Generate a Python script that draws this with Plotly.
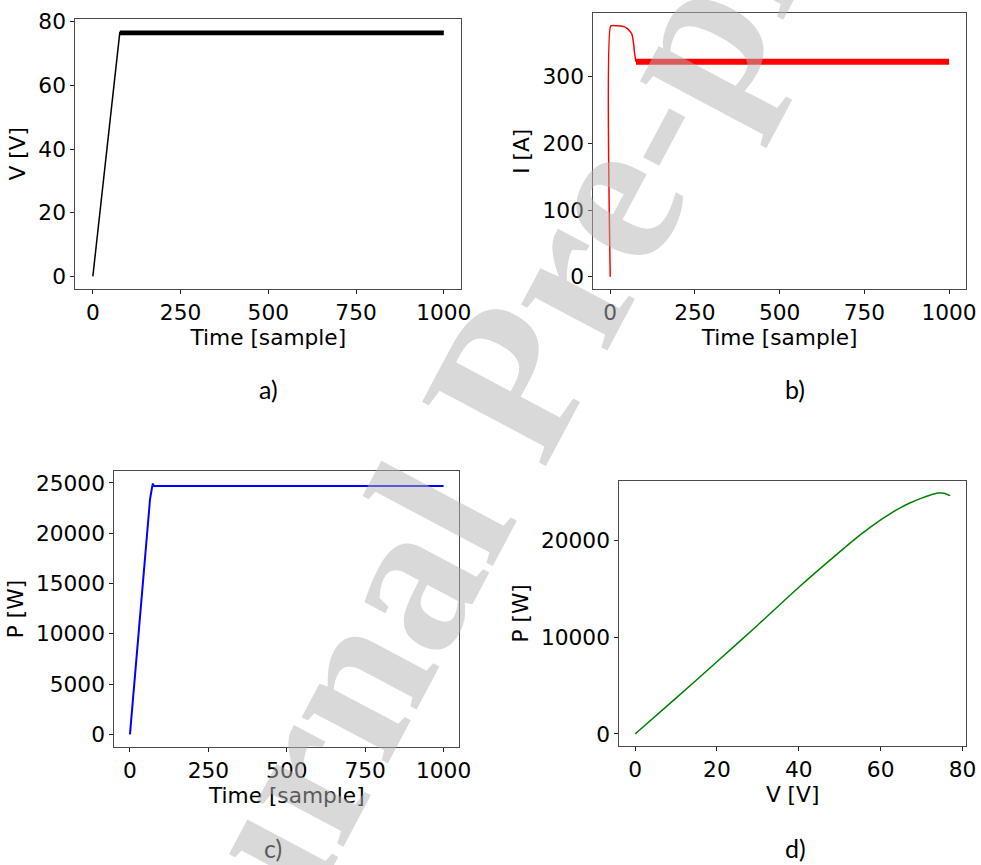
import plotly.graph_objects as go

# ---- a) PV-array voltage versus time ----
t_v_ramp = [0, 77]
v_ramp = [0.0, 76.8]
t_v_ripple = [77, 1000]
v_ripple_low = [76.0, 76.0]
v_ripple_high = [77.0, 77.0]

# ---- b) PV-array current versus time ----
t_i_start = [0, 1.5, 20, 35, 42, 49, 56, 64, 69, 72, 76]
i_start = [0, 376, 376, 375.5, 374.5, 372.5, 369, 363.5, 349, 334, 322]
t_i_ripple = [76, 1000]
i_ripple_low = [319.0, 319.0]
i_ripple_high = [325.5, 325.5]

# ---- c) PV-array power versus time ----
t_p = [0, 13.5, 27, 40, 54, 64, 70, 73, 76, 80, 1000]
p_t = [0, 5000, 10000, 15000, 20000, 23400, 24500, 24940, 24700, 24700, 24700]

# ---- d) P-V characteristic ----
v_curve = [0, 10, 20, 30, 40, 50, 55, 60, 62, 65, 67, 70, 72, 74, 75.5, 77]
p_curve = [0, 3700, 7450, 11250, 15150, 18800, 20550, 22100, 22650, 23400, 23820, 24350,
           24650, 24870, 24850, 24600]

# tick values per panel
time_ticks = [0, 250, 500, 750, 1000]
v_ticks = [0, 20, 40, 60, 80]
i_ticks = [0, 100, 200, 300]
p_ticks_c = [0, 5000, 10000, 15000, 20000, 25000]
p_ticks_d = [0, 10000, 20000]
panel_labels = ["a)", "b)", "c)", "d)"]

W, H = 981, 865
TICK_FONT = dict(family="DejaVu Sans", size=21.7, color="black")


def margin_range(lo, hi, frac=0.05):
    pad = (hi - lo) * frac
    return [lo - pad, hi + pad]


def axis(domain, rng, tickvals, title, standoff):
    return dict(
        domain=domain, range=rng, tickvals=tickvals,
        ticktext=[str(v) for v in tickvals],
        showline=True, mirror=True, linecolor="#4a4a4a", linewidth=1,
        ticks="outside", ticklen=4, tickwidth=1, tickcolor="#222",
        showgrid=False, zeroline=False, automargin=False,
        tickfont=TICK_FONT,
        title=dict(text=title, font=TICK_FONT, standoff=standoff),
    )


def dom_x(a, b):
    return [a / W, b / W]


def dom_y(top, bottom):
    return [1 - bottom / H, 1 - top / H]


fig = go.Figure()

# a) voltage
fig.add_trace(go.Scatter(x=t_v_ramp, y=v_ramp, mode="lines",
                         line=dict(color="black", width=1.5), xaxis="x", yaxis="y"))
fig.add_trace(go.Scatter(x=t_v_ripple, y=v_ripple_low, mode="lines",
                         line=dict(color="black", width=1.5), xaxis="x", yaxis="y"))
fig.add_trace(go.Scatter(x=t_v_ripple, y=v_ripple_high, mode="lines", fill="tonexty",
                         fillcolor="black", line=dict(color="black", width=1.5),
                         xaxis="x", yaxis="y"))

# b) current
fig.add_trace(go.Scatter(x=t_i_start, y=i_start, mode="lines",
                         line=dict(color="red", width=1.5, shape="spline", smoothing=0.4),
                         xaxis="x2", yaxis="y2"))
fig.add_trace(go.Scatter(x=t_i_ripple, y=i_ripple_low, mode="lines",
                         line=dict(color="red", width=1.5), xaxis="x2", yaxis="y2"))
fig.add_trace(go.Scatter(x=t_i_ripple, y=i_ripple_high, mode="lines", fill="tonexty",
                         fillcolor="red", line=dict(color="red", width=1.5),
                         xaxis="x2", yaxis="y2"))

# c) power over time
fig.add_trace(go.Scatter(x=t_p, y=p_t, mode="lines",
                         line=dict(color="blue", width=2), xaxis="x3", yaxis="y3"))

# d) P-V curve
fig.add_trace(go.Scatter(x=v_curve, y=p_curve, mode="lines",
                         line=dict(color="green", width=1.5, shape="spline", smoothing=0.5),
                         xaxis="x4", yaxis="y4"))

layout = dict(
    width=W, height=H, margin=dict(l=0, r=0, t=0, b=0),
    paper_bgcolor="white", plot_bgcolor="white", showlegend=False,
    xaxis=axis(dom_x(75.3, 461.3), margin_range(0, 1000), time_ticks, "Time [sample]", 1),
    yaxis=axis(dom_y(19, 288.7), margin_range(0, 77), v_ticks, "V [V]", 6),
    xaxis2=axis(dom_x(593.3, 966), margin_range(0, 1000), time_ticks, "Time [sample]", 1),
    yaxis2=axis(dom_y(13.3, 289.3), margin_range(0, 376), i_ticks, "I [A]", 6),
    xaxis3=axis(dom_x(114.3, 459.3), margin_range(0, 1000), time_ticks, "Time [sample]", 1),
    yaxis3=axis(dom_y(471, 747), margin_range(0, 24940), p_ticks_c, "P [W]", 6),
    xaxis4=axis(dom_x(619.3, 966), margin_range(0, 77), v_ticks, "V [V]", 1),
    yaxis4=axis(dom_y(480.7, 746), margin_range(0, 24900), p_ticks_d, "P [W]", 6),
)
for k in ("", "2", "3", "4"):
    layout["xaxis" + k]["anchor"] = "y" + k
    layout["yaxis" + k]["anchor"] = "x" + k
fig.update_layout(**layout)

# panel captions
label_pos = [(268, 389), (795, 389), (273, 848), (795, 848)]
annotations = []
for text, (px, py) in zip(panel_labels, label_pos):
    annotations.append(dict(
        text=text, x=px / W, y=1 - py / H, xref="paper", yref="paper",
        xanchor="center", yanchor="middle", showarrow=False,
        font=dict(family="Lato", size=25, color="black"),
    ))

# diagonal "Journal Pre-proof" stamp across the sheet
annotations.append(dict(
    text="Journal Pre-proof", x=508 / W, y=1 - 384 / H, xref="paper", yref="paper",
    xanchor="center", yanchor="middle", showarrow=False, textangle=-62,
    font=dict(family="Liberation Serif", size=213, weight="bold",
              color="rgba(180,180,180,0.5)"),
))
fig.update_layout(annotations=annotations)

fig.write_html("out.html")
